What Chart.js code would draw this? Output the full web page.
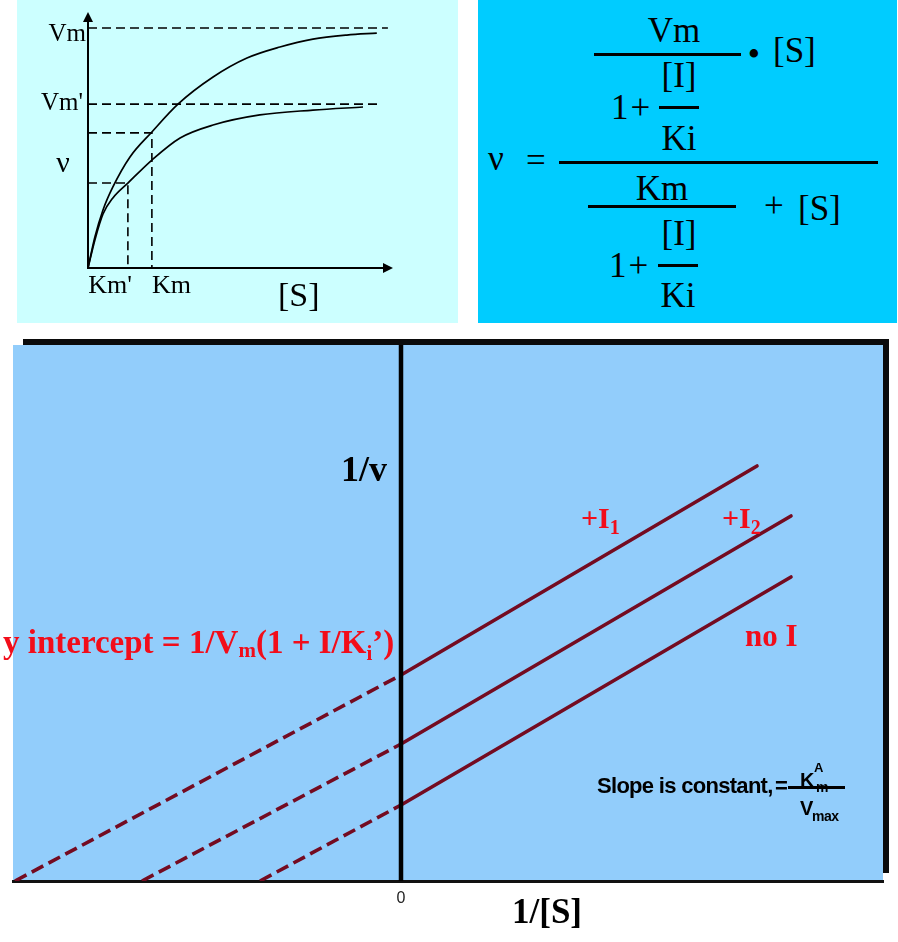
<!DOCTYPE html>
<html><head><meta charset="utf-8">
<script src="https://cdn.jsdelivr.net/npm/chart.js@4/dist/chart.umd.min.js"></script>
<style>
html,body{margin:0;padding:0;background:#fff;width:898px;height:942px;overflow:hidden;position:relative;}
.abs{position:absolute;white-space:nowrap;line-height:1;}
.serif{font-family:"Liberation Serif","Times New Roman",serif;}
.sans{font-family:"Liberation Sans",Arial,sans-serif;}
.rl{position:relative;}
#tl{position:absolute;left:17px;top:0;width:441px;height:323px;background:#ccffff;}
#tr{position:absolute;left:478px;top:0;width:419px;height:323px;background:#00ccff;}
#bc{position:absolute;left:0;top:330px;width:898px;height:612px;}
.bar{position:absolute;background:#000;}
canvas{display:block;}
</style></head><body>
<div id="tl"><canvas id="c1" width="441" height="323"></canvas></div>
<div id="tr"></div>
<div id="bc"><canvas id="c2" width="898" height="612"></canvas></div>
<script>
// ---------- Data: top-left Michaelis–Menten sketch (arbitrary units) ----------
const mmSubstrate    = [0, 0.23, 0.5, 0.83, 1.4, 2.13, 3.0, 4.17, 5.3, 6.4, 7.5, 8.63, 9.63];
const mmVelocity     = [0, 1.29, 2.42, 3.38, 4.63, 5.67, 6.83, 7.96, 8.75, 9.21, 9.54, 9.71, 9.79];
const mmSubstrateInh = [0, 0.23, 0.5, 0.83, 1.33, 2.13, 3.07, 4.17, 5.73, 7.5, 9.17];
const mmVelocityInh  = [0, 1.17, 2.25, 2.92, 3.54, 4.5, 5.42, 5.96, 6.38, 6.58, 6.71];
const mmVmaxLevels   = [10, 6.83];      // Vm, Vm'
const mmVmaxLineEnds = [10.0, 9.8];
const mmVmaxLabels   = ['Vm', "Vm'"];
const mmKmValues     = [1.33, 2.13];    // Km', Km
const mmKmLevels     = [3.54, 5.63];    // v read at Km', Km
const mmKmLabels     = ["Km'", 'Km'];
const mmAxisLabels   = ['\u03BD', '[S]'];

// ---------- Data: bottom Lineweaver–Burk plot ----------
const lbSeries      = ['+I1', '+I2', 'no I'];
const lbXIntercepts = [-3.86, -2.59, -1.41];  // 1/[S] where the extrapolation meets 1/v = 0
const lbYIntercepts = [2.06, 1.37, 0.76];     // 1/v at 1/[S] = 0
const lbXEnds       = [3.56, 3.90, 3.90];
const lbYEnds       = [4.15, 3.65, 3.04];
const lbXTicks      = [0];
const lbXTickLabels = ['0'];

const SERIF = '"Liberation Serif","Times New Roman",serif';
const SANS  = '"Liberation Sans",Arial,sans-serif';
const RED = '#f20d1a';
const MAROON = '#740b21';

// ---------- helper for HTML text placed by baseline ----------
function T(html, x, base, size, o = {}) {
  const d = document.createElement('div');
  d.className = 'abs ' + (o.sans ? 'sans' : 'serif');
  d.style.fontSize = size + 'px';
  d.style.fontWeight = o.bold ? 'bold' : 'normal';
  d.style.color = o.color || '#000';
  if (o.ls) d.style.letterSpacing = o.ls + 'px';
  const k = o.sans ? 0.8465 : 0.8375;
  d.style.top = (base - k * size) + 'px';
  d.style.left = x + 'px';
  let tf = '';
  if (o.align === 'center') tf += 'translateX(-50%) ';
  if (o.align === 'right') tf += 'translateX(-100%) ';
  if (o.sx) { tf += 'scaleX(' + o.sx + ')'; d.style.transformOrigin = 'left center'; }
  if (tf) d.style.transform = tf;
  d.innerHTML = html;
  document.body.appendChild(d);
  return d;
}
function B(x1, x2, y, h) {
  const d = document.createElement('div');
  d.className = 'bar';
  d.style.left = x1 + 'px'; d.style.width = (x2 - x1) + 'px';
  d.style.top = y + 'px'; d.style.height = h + 'px';
  document.body.appendChild(d);
}

// ---------- Top-left chart ----------
const mmDecor = {
  id: 'mmDecor',
  afterDatasetsDraw(chart) {
    const { ctx, scales: { x, y } } = chart;
    const x0 = x.getPixelForValue(0), y0 = y.getPixelForValue(0);
    const xT = x.getPixelForValue(x.max), yT = y.getPixelForValue(y.max);
    ctx.save();
    ctx.strokeStyle = '#000'; ctx.fillStyle = '#000'; ctx.lineWidth = 2;
    ctx.beginPath();
    ctx.moveTo(x0, y0 + 1); ctx.lineTo(x0, yT + 4);
    ctx.moveTo(x0 - 1, y0); ctx.lineTo(xT - 4, y0);
    ctx.stroke();
    ctx.beginPath(); ctx.moveTo(x0, yT); ctx.lineTo(x0 - 5, yT + 10); ctx.lineTo(x0 + 5, yT + 10); ctx.closePath(); ctx.fill();
    ctx.beginPath(); ctx.moveTo(xT, y0); ctx.lineTo(xT - 10, y0 - 5); ctx.lineTo(xT - 10, y0 + 5); ctx.closePath(); ctx.fill();
    ctx.textBaseline = 'alphabetic';
    ctx.font = '25px ' + SERIF;
    ctx.textAlign = 'right';
    ctx.fillText(mmVmaxLabels[0], x0 - 2, y.getPixelForValue(mmVmaxLevels[0]) + 13);
    ctx.fillText(mmVmaxLabels[1], x0 - 5, y.getPixelForValue(mmVmaxLevels[1]) + 6);
    ctx.font = '26px ' + SERIF;
    ctx.fillText(mmKmLabels[0], x.getPixelForValue(mmKmValues[0]) + 4, y0 + 25);
    ctx.textAlign = 'left';
    ctx.fillText(mmKmLabels[1], x.getPixelForValue(mmKmValues[1]), y0 + 25);
    ctx.font = '30px ' + SERIF;
    ctx.textAlign = 'center';
    ctx.fillText(mmAxisLabels[0], x0 - 25, y0 - 96);
    ctx.font = '34px ' + SERIF;
    ctx.textAlign = 'left';
    ctx.fillText(mmAxisLabels[1], x0 + 190, y0 + 38);
    ctx.restore();
  }
};
const pts = (xs, ys) => xs.map((v, i) => ({ x: v, y: ys[i] }));
const guide = (data) => ({ data, showLine: true, borderColor: '#000', borderWidth: 1.6, borderDash: [9, 5], pointRadius: 0, tension: 0 });
const curve = (data) => ({ data, showLine: true, borderColor: '#000', borderWidth: 1.7, pointRadius: 0, cubicInterpolationMode: 'monotone' });

new Chart(document.getElementById('c1'), {
  type: 'scatter',
  data: {
    datasets: [
      guide([{ x: 0, y: mmVmaxLevels[0] }, { x: mmVmaxLineEnds[0], y: mmVmaxLevels[0] }]),
      guide([{ x: 0, y: mmVmaxLevels[1] }, { x: mmVmaxLineEnds[1], y: mmVmaxLevels[1] }]),
      guide([{ x: 0, y: mmKmLevels[1] }, { x: mmKmValues[1], y: mmKmLevels[1] }, { x: mmKmValues[1], y: 0 }]),
      guide([{ x: 0, y: mmKmLevels[0] }, { x: mmKmValues[0], y: mmKmLevels[0] }, { x: mmKmValues[0], y: 0 }]),
      curve(pts(mmSubstrate, mmVelocity)),
      curve(pts(mmSubstrateInh, mmVelocityInh))
    ]
  },
  options: {
    responsive: false, animation: false, devicePixelRatio: 1,
    layout: { padding: { left: 71, right: 65, top: 12, bottom: 55 } },
    plugins: { legend: { display: false }, tooltip: { enabled: false } },
    scales: {
      x: { type: 'linear', min: 0, max: 10.17, display: false },
      y: { type: 'linear', min: 0, max: 10.67, display: false }
    }
  },
  plugins: [mmDecor]
});

// ---------- Bottom chart ----------
const lbDecor = {
  id: 'lbDecor',
  beforeDraw(chart) {
    const { ctx, chartArea: a } = chart;
    ctx.save(); ctx.fillStyle = '#92cdfb';
    ctx.fillRect(a.left, a.top, a.right - a.left, a.bottom - a.top);
    ctx.restore();
  },
  afterDatasetsDraw(chart) {
    const { ctx, chartArea: a, scales: { x } } = chart;
    ctx.save();
    ctx.fillStyle = '#000';
    const xz = x.getPixelForValue(0);
    ctx.fillRect(xz - 2.25, a.top, 4.5, a.bottom - a.top);
    ctx.fillStyle = '#0b0b0b';
    ctx.fillRect(a.left + 10, a.top - 6, a.right - a.left - 4, 6);
    ctx.fillRect(a.right, a.top - 6, 6, a.bottom - 8 - (a.top - 6));
    ctx.restore();
  }
};
const lbSets = [];
lbSeries.forEach((name, i) => {
  lbSets.push({ label: name + ' (extrapolated)', data: [{ x: lbXIntercepts[i], y: 0 }, { x: 0, y: lbYIntercepts[i] }],
    showLine: true, borderColor: MAROON, borderWidth: 3.6, borderDash: [13, 6], pointRadius: 0 });
  lbSets.push({ label: name, data: [{ x: 0, y: lbYIntercepts[i] }, { x: lbXEnds[i], y: lbYEnds[i] }],
    showLine: true, borderColor: MAROON, borderWidth: 3.6, borderCapStyle: 'round', pointRadius: 0 });
});
new Chart(document.getElementById('c2'), {
  type: 'scatter',
  data: { datasets: lbSets },
  options: {
    responsive: false, animation: false, devicePixelRatio: 1,
    layout: { padding: { left: 13, right: 15, top: 15, bottom: 0 } },
    plugins: { legend: { display: false }, tooltip: { enabled: false } },
    scales: {
      x: {
        type: 'linear', min: -3.88, max: 4.82,
        grid: { display: false, drawTicks: false },
        border: { display: true, color: '#111', width: 3 },
        afterBuildTicks: s => { s.ticks = lbXTicks.map(v => ({ value: v })); },
        afterFit: s => { s.height = 61; },
        ticks: { padding: 8, autoSkip: false, maxRotation: 0, color: '#222',
          font: { family: SANS, size: 16 },
          callback: (v) => lbXTickLabels[lbXTicks.indexOf(v)] }
      },
      y: { type: 'linear', min: 0, max: 5.36, display: false }
    }
  },
  plugins: [lbDecor]
});

// ---------- Top-right formula (HTML text) ----------
T('Vm', 674, 42, 35, { align: 'center' });
B(594, 741, 53, 3);
T('\u2022', 754, 66, 35, { align: 'center' });
T('[S]', 773, 62, 35);
T('[I]', 679, 87, 35, { align: 'center' });
T('1+', 611, 119, 35, { ls: 2 });
B(659, 699, 106, 3);
T('Ki', 679, 150, 35, { align: 'center' });
T('\u03BD', 488, 170, 35);
T('=', 526, 172, 35);
B(559, 878, 161, 3);
T('Km', 662, 200, 35, { align: 'center' });
B(588, 736, 205, 3);
T('+', 764, 217, 35);
T('[S]', 798, 220, 35);
T('[I]', 679, 245, 35, { align: 'center' });
T('1+', 609, 277, 35, { ls: 2 });
B(658, 698, 264, 3);
T('Ki', 678, 307, 35, { align: 'center' });

// ---------- Bottom chart labels ----------
T('1/v', 341, 481, 36, { bold: true });
T('1/[S]', 512, 923, 35, { bold: true });
T('y intercept = 1/V<span class="rl" style="font-size:21px;top:4px">m</span>(1 + I/K<span class="rl" style="font-size:21px;top:7px">i</span>\u2019)', 3, 654, 33, { bold: true, color: RED });
T('+I<span class="rl" style="font-size:20px;top:6px">1</span>', 581, 528, 30, { bold: true, color: RED });
T('+I<span class="rl" style="font-size:20px;top:6px">2</span>', 722, 528, 30, { bold: true, color: RED });
T('no I', 745, 646, 31, { bold: true, color: RED });
T('Slope is constant,', 597, 794, 22, { bold: true, sans: true, ls: -0.7 });
T('=', 775, 794, 22, { bold: true, sans: true });
B(788, 845, 786, 3);
T('K', 800, 787, 20, { bold: true, sans: true });
T('A', 814, 772, 13, { bold: true, sans: true });
T('m', 816, 792, 14, { bold: true, sans: true });
T('V', 800, 815, 20, { bold: true, sans: true });
T('max', 812, 821, 14, { bold: true, sans: true, ls: -0.5 });
</script>
</body></html>
